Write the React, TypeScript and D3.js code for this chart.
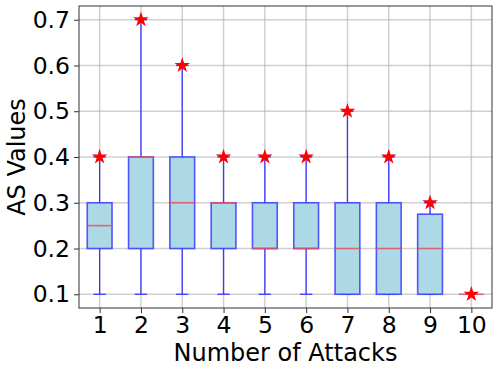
import React, { useEffect, useRef } from "react";
import * as d3 from "d3";

// five-number summaries
const attacks = [1, 2, 3, 4, 5, 6, 7, 8, 9, 10];
const mins = [0.1, 0.1, 0.1, 0.1, 0.1, 0.1, 0.1, 0.1, 0.1, 0.1];
const q1s = [0.2, 0.2, 0.2, 0.2, 0.2, 0.2, 0.1, 0.1, 0.1, 0.1];
const medians = [0.25, 0.4, 0.3, 0.3, 0.2, 0.2, 0.2, 0.2, 0.2, 0.1];
const q3s = [0.3, 0.4, 0.4, 0.3, 0.3, 0.3, 0.3, 0.3, 0.275, 0.1];
const maxs = [0.4, 0.7, 0.6, 0.4, 0.4, 0.4, 0.5, 0.4, 0.3, 0.1];
const yTicks = [0.1, 0.2, 0.3, 0.4, 0.5, 0.6, 0.7];

const W = 499;
const H = 372;
const MARGIN = { top: 6, right: 7, bottom: 64, left: 79 };
const FONT = "'DejaVu Sans', sans-serif";
const TICK_FS = 23.5;
const LABEL_FS = 24;

export default function App() {
  const svgRef = useRef<SVGSVGElement>(null);

  useEffect(() => {
    const svg = d3.select(svgRef.current);
    svg.selectAll("*").remove();

    const innerW = W - MARGIN.left - MARGIN.right;
    const innerH = H - MARGIN.top - MARGIN.bottom;

    const x = d3.scaleLinear().domain([0.5, 10.5]).range([0, innerW]);
    const y = d3.scaleLinear().domain([0.07, 0.73]).range([innerH, 0]);

    const g = svg
      .append("g")
      .attr("transform", `translate(${MARGIN.left},${MARGIN.top})`);

    // ── Grid ──
    g.selectAll("line.gy")
      .data(yTicks)
      .join("line")
      .attr("x1", 0)
      .attr("x2", innerW)
      .attr("y1", (d) => y(d))
      .attr("y2", (d) => y(d))
      .attr("stroke", "#b0b0b0")
      .attr("stroke-opacity", 0.6)
      .attr("stroke-width", 1.5);
    g.selectAll("line.gx")
      .data(attacks)
      .join("line")
      .attr("x1", (d) => x(d))
      .attr("x2", (d) => x(d))
      .attr("y1", 0)
      .attr("y2", innerH)
      .attr("stroke", "#b0b0b0")
      .attr("stroke-opacity", 0.6)
      .attr("stroke-width", 1.5);

    // ── Boxes ──
    const bw = x(0.6) - x(0);
    const cw = x(0.3) - x(0);
    const blue = "#3a3aff";
    const rows = attacks.map((a, i) => ({
      a,
      min: mins[i],
      q1: q1s[i],
      med: medians[i],
      q3: q3s[i],
      max: maxs[i],
    }));

    const box = g.selectAll("g.box").data(rows).join("g").attr("class", "box");

    box
      .append("line")
      .attr("x1", (d) => x(d.a))
      .attr("x2", (d) => x(d.a))
      .attr("y1", (d) => y(d.min))
      .attr("y2", (d) => y(d.q1))
      .attr("stroke", blue)
      .attr("stroke-width", 1.3);
    box
      .append("line")
      .attr("x1", (d) => x(d.a))
      .attr("x2", (d) => x(d.a))
      .attr("y1", (d) => y(d.q3))
      .attr("y2", (d) => y(d.max))
      .attr("stroke", blue)
      .attr("stroke-width", 1.3);
    ["min", "max"].forEach((k) => {
      box
        .append("line")
        .attr("x1", (d) => x(d.a) - cw / 2)
        .attr("x2", (d) => x(d.a) + cw / 2)
        .attr("y1", (d: any) => y(d[k]))
        .attr("y2", (d: any) => y(d[k]))
        .attr("stroke", blue)
        .attr("stroke-width", 1.3);
    });
    box
      .append("rect")
      .attr("x", (d) => x(d.a) - bw / 2)
      .attr("width", bw)
      .attr("y", (d) => y(d.q3))
      .attr("height", (d) => y(d.q1) - y(d.q3))
      .attr("fill", "#add8e6")
      .attr("stroke", blue)
      .attr("stroke-opacity", 0.85)
      .attr("stroke-width", 1.6);
    box
      .append("line")
      .attr("x1", (d) => x(d.a) - bw / 2)
      .attr("x2", (d) => x(d.a) + bw / 2)
      .attr("y1", (d) => y(d.med))
      .attr("y2", (d) => y(d.med))
      .attr("stroke", "#e8505e")
      .attr("stroke-opacity", 0.85)
      .attr("stroke-width", 1.6);

    const star = d3.symbol().type(d3.symbolStar).size(75);
    box
      .append("path")
      .attr("d", star)
      .attr("transform", (d) => `translate(${x(d.a)},${y(d.max)})`)
      .attr("fill", "red");

    // ── Spines ──
    g.append("rect")
      .attr("width", innerW)
      .attr("height", innerH)
      .attr("fill", "none")
      .attr("stroke", "#333")
      .attr("stroke-width", 1);

    // ── Axes ──
    const yAxis = g
      .append("g")
      .call(
        d3
          .axisLeft(y)
          .tickValues(yTicks)
          .tickFormat(d3.format(".1f"))
          .tickSize(5)
          .tickPadding(4),
      );
    yAxis.select(".domain").remove();
    yAxis.selectAll("line").attr("stroke", "#333");
    yAxis
      .selectAll("text")
      .attr("font-size", TICK_FS)
      .attr("font-family", FONT)
      .attr("fill", "#000");

    const xAxis = g
      .append("g")
      .attr("transform", `translate(0,${innerH})`)
      .call(
        d3
          .axisBottom(x)
          .tickValues(attacks)
          .tickFormat(d3.format("d"))
          .tickSize(5)
          .tickPadding(3),
      );
    xAxis.select(".domain").remove();
    xAxis.selectAll("line").attr("stroke", "#333");
    xAxis
      .selectAll("text")
      .attr("font-size", TICK_FS)
      .attr("font-family", FONT)
      .attr("fill", "#000");

    svg
      .append("text")
      .attr("x", MARGIN.left + innerW / 2)
      .attr("y", 361)
      .attr("text-anchor", "middle")
      .attr("font-size", LABEL_FS)
      .attr("font-family", FONT)
      .text("Number of Attacks");

    svg
      .append("text")
      .attr("transform", `translate(25,${MARGIN.top + innerH / 2}) rotate(-90)`)
      .attr("text-anchor", "middle")
      .attr("font-size", LABEL_FS)
      .attr("font-family", FONT)
      .text("AS Values");
  }, []);

  return (
    <svg
      ref={svgRef}
      width={W}
      height={H}
      style={{ position: "absolute", left: 0, top: 0, background: "#fff" }}
    />
  );
}
